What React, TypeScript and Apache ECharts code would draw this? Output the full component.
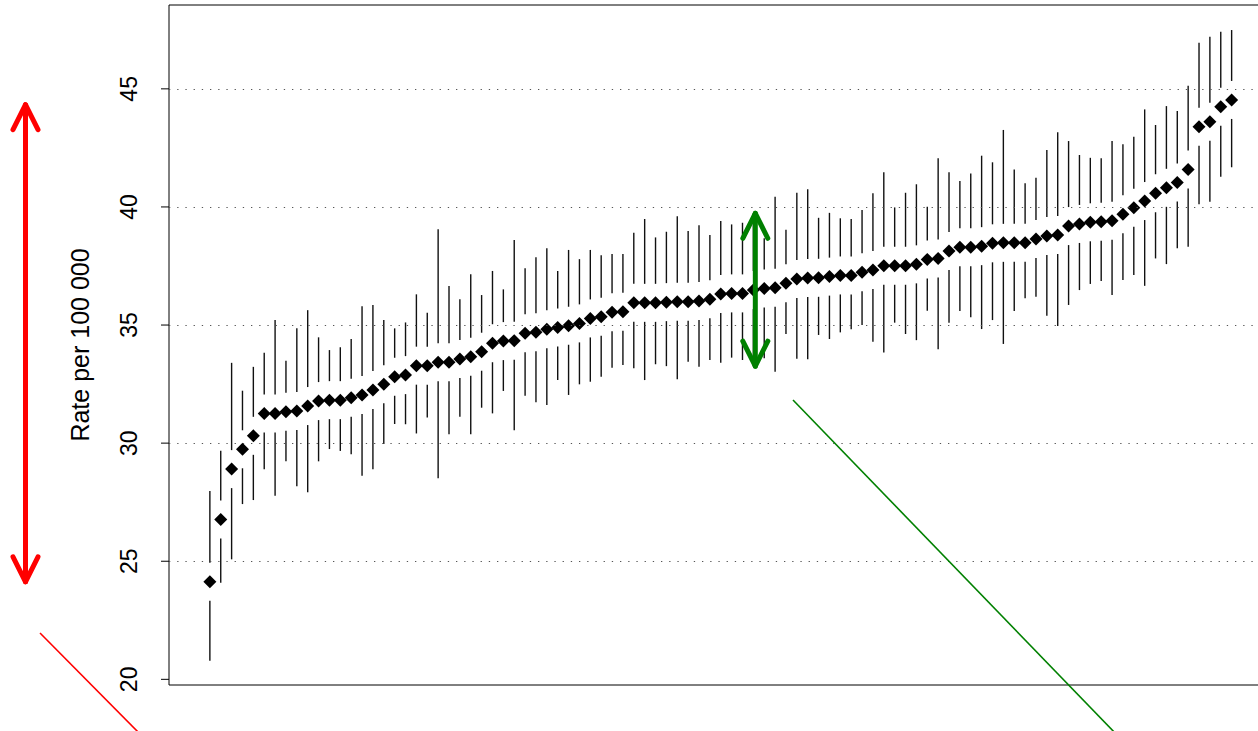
import React, { useEffect, useRef } from "react";
import * as echarts from "echarts";

// Point estimates (rate per 100 000), sorted, one per unit
const rates = [
  24.13, 26.77, 28.90, 29.74, 30.31, 31.26, 31.26, 31.33, 31.36, 31.57,
  31.78, 31.82, 31.82, 31.92, 32.04, 32.25, 32.49, 32.81, 32.88, 33.28,
  33.28, 33.42, 33.42, 33.56, 33.66, 33.87, 34.23, 34.32, 34.34, 34.65,
  34.69, 34.82, 34.90, 34.97, 35.07, 35.28, 35.35, 35.54, 35.56, 35.94,
  35.94, 35.94, 35.97, 35.99, 35.99, 36.02, 36.09, 36.31, 36.34, 36.34,
  36.48, 36.55, 36.58, 36.77, 36.95, 36.99, 37.00, 37.05, 37.10, 37.10,
  37.24, 37.33, 37.51, 37.51, 37.51, 37.57, 37.78, 37.82, 38.13, 38.29,
  38.29, 38.34, 38.46, 38.48, 38.48, 38.48, 38.64, 38.77, 38.81, 39.19,
  39.28, 39.35, 39.37, 39.42, 39.69, 39.97, 40.25, 40.58, 40.81, 41.04,
  41.59, 43.40, 43.61, 44.24, 44.53,
];

// Lower confidence limits
const lower = [
  20.79, 24.09, 25.08, 27.42, 27.59, 28.89, 27.77, 29.23, 28.18, 27.92,
  29.23, 29.75, 29.67, 29.53, 28.62, 28.89, 29.96, 30.81, 30.80, 30.41,
  31.09, 28.51, 30.38, 31.12, 30.38, 31.50, 31.26, 32.21, 30.55, 32.01,
  31.73, 31.61, 32.67, 32.04, 32.49, 32.60, 32.81, 33.19, 33.31, 33.17,
  32.67, 33.34, 33.26, 32.70, 33.45, 33.23, 33.52, 33.40, 33.62, 33.52,
  33.26, 33.59, 33.02, 34.62, 33.57, 33.55, 34.58, 34.41, 34.69, 34.82,
  35.00, 34.29, 33.84, 35.10, 34.62, 34.36, 35.61, 33.98, 35.10, 35.59,
  35.33, 34.83, 35.21, 34.20, 35.59, 36.13, 36.20, 35.39, 34.96, 35.85,
  36.48, 36.74, 36.86, 36.27, 36.91, 37.12, 36.66, 37.82, 37.58, 38.25,
  38.32, 40.11, 40.22, 41.28, 41.68,
];

// Upper confidence limits
const upper = [
  27.97, 29.68, 33.40, 32.22, 33.23, 33.83, 35.21, 33.49, 34.86, 35.63,
  34.48, 33.94, 34.06, 34.41, 35.80, 35.85, 35.21, 34.86, 35.11, 36.30,
  35.52, 39.06, 36.65, 36.09, 37.15, 36.27, 37.29, 36.51, 38.60, 37.40,
  37.87, 38.25, 37.29, 38.18, 37.79, 38.18, 37.96, 38.01, 38.01, 38.91,
  39.49, 38.71, 38.95, 39.61, 38.98, 39.23, 38.81, 39.40, 39.26, 39.33,
  39.73, 38.67, 40.43, 39.03, 40.60, 40.75, 39.54, 39.75, 39.52, 39.49,
  39.87, 40.58, 41.47, 39.98, 40.60, 40.96, 40.01, 42.06, 41.47, 41.10,
  41.42, 42.17, 41.89, 43.26, 41.59, 41.00, 41.24, 42.41, 43.16, 42.79,
  42.20, 42.08, 42.06, 42.79, 42.65, 42.97, 44.13, 43.47, 44.27, 44.06,
  45.13, 46.95, 47.21, 47.42, 47.49,
];

const yTicks = [20, 25, 30, 35, 40, 45];
const gridValues = [25, 30, 35, 40, 45];
const highlightUnit = 51; // unit whose interval is marked by the green arrow

const FONT = "'Liberation Sans', Arial, Helvetica, sans-serif";

function arrowChildren(x: number, yTop: number, yBot: number, color: string) {
  const dx = 12.5;
  const dy = 25;
  const style = { stroke: color, lineWidth: 5, lineCap: "round", lineJoin: "round", fill: "none" };
  return [
    { type: "line", shape: { x1: x, y1: yTop, x2: x, y2: yBot }, style },
    { type: "polyline", shape: { points: [[x - dx, yTop + dy], [x, yTop], [x + dx, yTop + dy]] }, style },
    { type: "polyline", shape: { points: [[x - dx, yBot - dy], [x, yBot], [x + dx, yBot - dy]] }, style },
  ];
}

export default function App() {
  const ref = useRef<HTMLDivElement>(null);

  useEffect(() => {
    if (!ref.current) return;
    const chart = echarts.init(ref.current, undefined, { renderer: "svg" });
    const n = rates.length;
    const pad = 0.04 * (n - 1);
    const xMin = 1 - pad;
    const minRate = Math.min(...rates);
    const maxRate = Math.max(...rates);

    const option: any = {
      animation: false,
      backgroundColor: "#ffffff",
      grid: {
        left: 169,
        right: 17.5,
        top: 5,
        bottom: 46,
        show: true,
        borderColor: "#000",
        borderWidth: 1,
        backgroundColor: "transparent",
      },
      xAxis: {
        type: "value",
        min: xMin,
        max: n + pad,
        show: false,
      },
      yAxis: {
        type: "value",
        min: 19.76,
        max: 48.55,
        axisLine: { show: false },
        splitLine: { show: false },
        axisTick: { show: false },
        axisLabel: {
          customValues: yTicks,
          rotate: 90,
          margin: 29,
          fontSize: 23,
          color: "#000",
          fontFamily: FONT,
        },
        name: "Rate per 100 000",
        nameLocation: "middle",
        nameRotate: 90,
        nameGap: 77,
        nameMoveOverlap: false,
        nameTextStyle: { fontSize: 25, color: "#000", fontFamily: FONT },
      },
      graphic: [
        {
          type: "line",
          shape: { x1: 40, y1: 633, x2: 142, y2: 736 },
          style: { stroke: "#ff0000", lineWidth: 1.6 },
          z: 10,
        },
        {
          type: "line",
          shape: { x1: 793, y1: 400, x2: 1118, y2: 736 },
          style: { stroke: "#008000", lineWidth: 1.6 },
          z: 10,
        },
      ],
      series: [
        {
          type: "custom",
          name: "interval",
          silent: true,
          z: 2,
          encode: { x: 0, y: [1, 2, 3] },
          data: rates.map((r, i) => [i + 1, lower[i], r, upper[i]]),
          renderItem: (params: any, api: any) => {
            const x = api.value(0);
            const pLo = api.coord([x, api.value(1)]);
            const pMid = api.coord([x, api.value(2)]);
            const pHi = api.coord([x, api.value(3)]);
            const gap = 19;
            const style = { stroke: "#111", lineWidth: 1.4 };
            const children: any[] = [];
            if (pLo[1] > pMid[1] + gap) {
              children.push({ type: "line", shape: { x1: pLo[0], y1: pLo[1], x2: pLo[0], y2: pMid[1] + gap }, style });
            }
            if (pHi[1] < pMid[1] - gap) {
              children.push({ type: "line", shape: { x1: pHi[0], y1: pMid[1] - gap, x2: pHi[0], y2: pHi[1] }, style });
            }
            return { type: "group", children };
          },
        },
        {
          type: "scatter",
          name: "rate",
          silent: true,
          z: 3,
          symbol: "diamond",
          symbolSize: 13,
          itemStyle: { color: "#000", opacity: 1 },
          data: rates.map((r, i) => [i + 1, r]),
          markLine: {
            silent: true,
            symbol: ["none", "none"],
            label: { show: false },
            lineStyle: { color: "#555", width: 1.2, type: [1.3, 6.9], opacity: 1 },
            emphasis: { disabled: true },
            data: gridValues.map((v) => ({ yAxis: v })),
          },
        },
        {
          type: "custom",
          name: "ticks",
          silent: true,
          z: 4,
          encode: { y: 0 },
          data: yTicks.map((v) => [v]),
          renderItem: (params: any, api: any) => {
            const p = api.coord([xMin, api.value(0)]);
            return {
              type: "line",
              shape: { x1: p[0] - 8, y1: p[1], x2: p[0], y2: p[1] },
              style: { stroke: "#000", lineWidth: 1 },
            };
          },
        },
        {
          type: "custom",
          name: "annotations",
          silent: true,
          z: 5,
          data: [[0]],
          renderItem: (params: any, api: any) => {
            const hi = upper[highlightUnit - 1];
            const lo = lower[highlightUnit - 1];
            const gTop = api.coord([highlightUnit + 0.18, hi]);
            const gBot = api.coord([highlightUnit + 0.18, lo]);
            const rTop = api.coord([0, maxRate - 0.2]);
            const rBot = api.coord([0, minRate]);
            return {
              type: "group",
              children: [
                ...arrowChildren(gTop[0], gTop[1], gBot[1], "#008000"),
                ...arrowChildren(25.5, rTop[1], rBot[1], "#ff0000"),
              ],
            };
          },
        },
      ],
    };

    chart.setOption(option);
    return () => chart.dispose();
  }, []);

  return (
    <div
      ref={ref}
      style={{ position: "fixed", left: 0, top: 0, width: 1290, height: 731, background: "#fff" }}
    />
  );
}
